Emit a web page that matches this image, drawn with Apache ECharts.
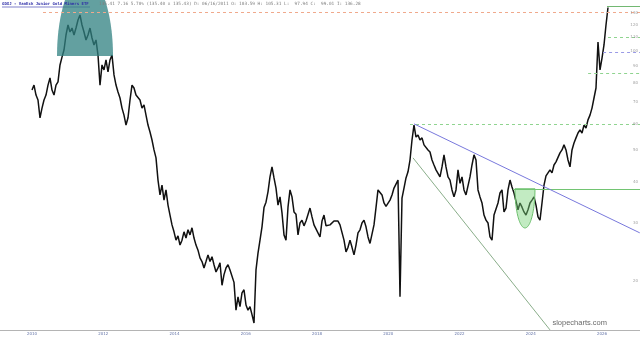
<!DOCTYPE html>
<html><head><meta charset="utf-8">
<script src="https://cdn.jsdelivr.net/npm/echarts@6/dist/echarts.min.js"></script>
<style>html,body{margin:0;padding:0;background:#fff}#c{width:640px;height:340px}</style>
</head><body><div id="c"></div>
<script>
// ---- data (dates as decimal years, prices in USD) ----
const startYear = 2010.0;
const stepYears = 0.05614; // one sample about every 20.5 days
const closes = [
 76.0,78.7,73.4,70.9,62.6,67.0,70.9,73.4,78.7,82.7,76.0,73.4,78.7,80.5,90.6,95.7,100.6,111.7,119.8,114.1,
 117.3,111.7,117.3,124.1,128.5,119.8,114.1,107.9,111.7,117.3,109.4,104.2,107.9,97.1,78.7,90.6,87.5,93.8,86.3,93.8,
 97.1,84.5,78.7,75.0,71.9,67.0,63.8,59.5,62.6,70.9,78.7,77.1,73.4,74.4,70.9,67.0,68.5,63.8,59.5,
 56.7,53.6,50.0,47.3,40.5,36.5,39.1,35.2,37.8,34.0,31.7,29.6,28.2,26.6,27.4,25.7,26.6,28.2,27.0,28.6,
 27.6,29.0,27.0,25.7,24.8,23.5,22.9,21.9,22.9,24.0,22.9,23.7,22.4,21.3,21.9,22.7,
 19.4,20.9,21.9,22.4,21.6,21.9,19.8,16.3,17.9,16.7,18.4,18.8,16.9,16.3,16.7,15.8,14.9,21.6,24.3,26.6,
 29.2,33.4,34.7,37.3,41.4,44.4,41.1,38.3,34.0,36.0,32.2,27.6,26.6,33.5,37.8,36.0,32.4,31.9,27.6,30.0,
 30.6,29.4,30.4,30.6,33.3,31.3,29.6,28.8,29.0,27.2,30.4,31.7,29.4,29.2,29.6,29.2,30.4,30.4,30.4,29.6,
 29.2,26.6,24.5,25.3,26.6,25.3,24.0,25.7,28.0,28.6,30.0,30.6,29.2,27.2,26.0,25.7,29.6,33.4,37.8,38.3,
 36.5,34.5,33.7,33.9,35.2,36.5,38.3,37.8,40.5,17.9,35.7,38.3,41.1,42.9,46.6,53.6,59.5,54.7,55.5,53.6,
 54.4,51.8,51.1,50.0,49.3,46.6,45.0,43.5,43.5,41.4,44.4,48.3,44.4,41.4,40.5,37.8,36.0,37.8,43.5,39.6,
 41.4,37.8,36.5,37.0,41.4,45.0,48.3,46.6,37.8,36.0,34.5,31.7,30.6,30.0,27.2,26.6,31.7,31.7,34.5,37.0,
 37.8,32.4,33.3,37.8,40.5,38.6,37.0,36.5,32.9,34.5,33.5,32.4,31.7,32.9,34.5,35.2,36.0,34.0,31.3,30.6,
 34.5,39.1,41.7,41.4,43.5,42.6,45.0,46.0,45.7,49.0,50.0,51.8,50.0,46.6,44.4,50.0,52.5,54.4,56.3,57.5,
 56.3,59.5,58.3,61.7,63.8,67.0,71.9,77.1,106.4,87.5,95.1,104.2,119.8,135.41
];
const priceTicks = [20,30,40,50,60,70,80,90,100,110,120,130];
const yearTicks = [2010,2012,2014,2016,2018,2020,2022,2024,2026];
const xRange = [2009.1018, 2027.0667];
const yRange = [14.19, 142.7];
// horizontal levels: [start year, price]
const resistance2011 = [2010.309, 131.0];
const peak2020Level = [2020.61, 60.0];
const cupRimLevel = [2023.50, 38.1];
const levelUpper = [2026.168, 110.1];
const levelMiddle = [2026.03, 99.2];
const levelLower = [2025.61, 85.6];
const lastHigh = [2026.14, 136.28];
// trendlines: [[year, price], [year, price]]
const upperTrend = [[2020.723, 60.0], [2027.06, 28.0]];
const lowerTrend = [[2020.695, 47.3], [2024.54, 14.2]];
// shaded zones: [start year, end year, base price, apex price]
const topZone = [2010.702, 2012.274, 96.4, 168.8];
const cupZone = [2023.558, 2024.119, 38.1, 28.97];

const headerName = 'GDXJ - VanEck Junior Gold Miners ETF';
const headerQuote = '135.41 7.16 5.70% (135.40 x 135.43) D: 06/16/2011 O: 103.59 H: 105.31 L:  97.94 C:  99.01 I: 136.28';

// ---- chart ----
const chart = echarts.init(document.getElementById('c'), null, {renderer: 'canvas'});
const series = closes.map((v, i) => [startYear + i * stepYears, v]);

function hLine(level, color, type) {
  return [{coord: [level[0], level[1]], lineStyle: {color: color, type: type, width: 1}},
          {coord: [xRange[1], level[1]]}];
}
function zoneRender(params, api) {
  const x0 = api.value(0), x1 = api.value(1), yb = api.value(2), ye = api.value(3);
  const pL = api.coord([x0, yb]), pR = api.coord([x1, yb]), pT = api.coord([(x0 + x1) / 2, ye]);
  const cx = (pL[0] + pR[0]) / 2, cy = pL[1], a = (pR[0] - pL[0]) / 2, b = pT[1] - cy;
  const pts = [];
  for (let k = 0; k <= 60; k++) {
    const t = Math.PI * k / 60;
    pts.push([cx + a * Math.cos(t), cy + b * Math.sin(t)]);
  }
  return {type: 'polygon', shape: {points: pts}, style: api.style()};
}

chart.setOption({
  animation: false,
  backgroundColor: '#ffffff',
  title: [
    {left: 2, top: 1, padding: 0, text: headerName,
     textStyle: {color: '#2e2ea8', fontFamily: 'DejaVu Sans Mono', fontSize: 4, fontWeight: 'bold', lineHeight: 6}},
    {left: 99, top: 1, padding: 0, text: headerQuote,
     textStyle: {color: '#808080', fontFamily: 'DejaVu Sans Mono', fontSize: 4.4, fontWeight: 'normal', lineHeight: 6}}
  ],
  graphic: [
    {type: 'line', shape: {x1: 2, y1: 7, x2: 90, y2: 7}, style: {stroke: '#2e2ea8', lineWidth: 0.6}},
    {type: 'text', right: 33, bottom: 13, style: {text: 'slopecharts.com', fontSize: 7.5, fontFamily: 'Liberation Sans', fill: '#6a6a6a'}}
  ],
  grid: {left: 0, right: 0, top: 0, bottom: 10},
  xAxis: {
    type: 'value', min: xRange[0], max: xRange[1],
    axisLine: {show: true, lineStyle: {color: '#b4b4b4', width: 1}},
    axisTick: {show: false},
    splitLine: {show: false},
    axisLabel: {customValues: yearTicks, fontSize: 4, color: '#6474a8', margin: 2, fontFamily: 'DejaVu Sans', formatter: v => String(v)}
  },
  yAxis: {
    type: 'log', min: yRange[0], max: yRange[1], position: 'right',
    axisLine: {show: false}, axisTick: {show: false}, splitLine: {show: false}, axisLabel: {show: false}
  },
  series: [
    {
      type: 'line', data: series, showSymbol: false, symbol: 'none',
      lineStyle: {color: '#111', width: 1.5}, z: 3,
      markLine: {
        silent: true, symbol: 'none', label: {show: false},
        data: [
          hLine(resistance2011, '#f0a98c', [3, 3]),
          hLine(peak2020Level, '#8fd48f', [3, 3]),
          hLine(cupRimLevel, '#72c472', 'solid'),
          hLine(levelUpper, '#8fd48f', [3, 3]),
          hLine(levelMiddle, '#9a9ae6', [3, 3]),
          hLine(levelLower, '#8fd48f', [3, 3]),
          hLine(lastHigh, '#72b872', 'solid'),
          [{coord: upperTrend[0], lineStyle: {color: '#7878dc', type: 'solid', width: 1}}, {coord: upperTrend[1]}],
          [{coord: lowerTrend[0], lineStyle: {color: '#8aae8a', type: 'solid', width: 1}}, {coord: lowerTrend[1]}]
        ]
      }
    },
    {
      type: 'custom', renderItem: zoneRender, data: [topZone], clip: true, z: 4,
      itemStyle: {color: 'rgba(47,128,128,0.75)', borderWidth: 0}
    },
    {
      type: 'custom', renderItem: zoneRender, data: [cupZone], clip: true, z: 4,
      itemStyle: {color: 'rgba(120,210,120,0.45)', borderColor: '#6cbf6c', borderWidth: 1}
    },
    {
      type: 'scatter', data: priceTicks.map(v => [xRange[1], v]), symbolSize: 0, clip: false, silent: true, z: 5,
      label: {show: true, position: 'left', distance: 2, fontSize: 4, color: '#8a8a8a', fontFamily: 'DejaVu Sans',
              formatter: p => String(p.value[1])}
    }
  ]
});
</script>
</body></html>
